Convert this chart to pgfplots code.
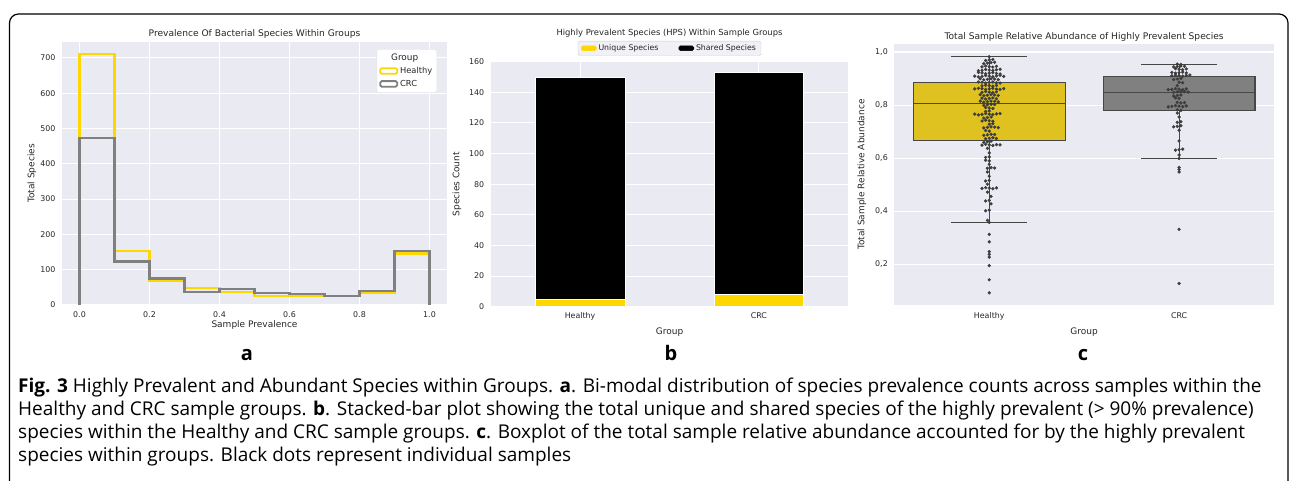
\documentclass[border=0pt]{standalone}
\usepackage{fontspec}
\setmainfont{DejaVu Sans}
\newfontfamily\capfont{Open Sans}
\usepackage{pgfplots}
\pgfplotsset{compat=1.18}
\usepgfplotslibrary{statistics}
\definecolor{bgc}{HTML}{EAEAF2}
\definecolor{gold}{HTML}{FFD700}
\definecolor{hgray}{HTML}{808080}
\definecolor{boxgold}{HTML}{DFC21F}
\definecolor{boxgray}{HTML}{808080}
\definecolor{boxedge}{HTML}{474747}
\definecolor{dotc}{HTML}{3D3D3D}
\definecolor{txt}{HTML}{262626}
\pgfplotsset{
  sb/.style={
    scale only axis, anchor=south west,
    axis background/.style={fill=bgc},
    axis line style={draw=none},
    major tick length=0pt,
    tick style={draw=none},
    major grid style={white, line width=1.1pt},
    enlargelimits=false,
    /pgf/number format/assume math mode=true,
    tick label style={font=\fontsize{7.9}{9}\selectfont, text=txt},
  },
  tstyle/.style={every axis title/.style={at={(axis description cs:0.5,1)}, anchor=center, yshift=#1, font=\fontsize{9.1}{11}\selectfont, text=txt}},
  xl/.style={every axis x label/.style={at={(axis description cs:0.5,0)}, anchor=center, yshift=#1, font=\fontsize{9}{11}\selectfont, text=txt}},
  yl/.style={every axis y label/.style={at={(axis description cs:0,0.5)}, xshift=#1, rotate=90, anchor=center, font=\fontsize{9}{11}\selectfont, text=txt}},
}
\begin{document}
\begin{tikzpicture}
\path[use as bounding box] (0pt,0pt) rectangle (1290pt,480pt);
\begin{scope}
\clip (0pt,0pt) rectangle (1290pt,480pt);
\draw[line width=1.2pt, rounded corners=9pt] (9.5pt,-20pt) -- (9.5pt,466pt) -- (1288pt,466pt) -- (1288pt,-20pt);
\end{scope}

% ---------- panel a ----------
\begin{axis}[sb, at={(62pt,175pt)}, width=385pt, height=263pt,
  xmin=-0.05, xmax=1.05, ymin=0, ymax=745,
  xtick={0,0.2,0.4,0.6,0.8,1.0}, ytick={0,100,200,300,400,500,600,700},
  grid=major,
  xticklabel style={yshift=-3.3pt, /pgf/number format/.cd, fixed, fixed zerofill, precision=1},
  yticklabel style={xshift=-3pt},
  tstyle=7.7pt, xl=-20.3pt, yl=-30pt,
  title={Prevalence Of Bacterial Species Within Groups},
  xlabel={Sample Prevalence}, ylabel={Total Species},
  legend style={at={(0.974,0.973)}, anchor=north east, fill=white, draw=black!12, rounded corners=1.5pt, font=\fontsize{8.3}{10}\selectfont, text=txt, inner sep=2.5pt, row sep=1.2pt},
  legend cell align=left,
]
\addplot[const plot, gold, line width=2.2pt, forget plot] coordinates {(0,0) (0,712) (0.1,152) (0.2,69) (0.3,48) (0.4,37) (0.5,25) (0.6,25) (0.7,26) (0.8,33) (0.9,146) (1.0,0)};
\addplot[const plot, hgray, line width=2.2pt, forget plot] coordinates {(0,0) (0,472) (0.1,123) (0.2,75) (0.3,37) (0.4,45) (0.5,34) (0.6,31) (0.7,25) (0.8,40) (0.9,153) (1.0,0)};
\addlegendimage{empty legend}
\addlegendentry{\hspace*{-9pt}{\fontsize{8.9}{10}\selectfont Group}}
\addlegendimage{legend image code/.code={\draw[gold,line width=1.8pt] (0pt,-2.8pt) rectangle (17pt,2.8pt);}}
\addlegendentry{Healthy}
\addlegendimage{legend image code/.code={\draw[hgray,line width=1.8pt] (0pt,-2.8pt) rectangle (17pt,2.8pt);}}
\addlegendentry{CRC}
\end{axis}

% ---------- panel b ----------
\begin{axis}[sb, at={(490.7pt,173.3pt)}, width=357.6pt, height=245pt,
  xmin=-0.5, xmax=1.5, ymin=0, ymax=160,
  xtick={0,1}, xticklabels={Healthy,CRC}, ytick={0,20,40,60,80,100,120,140,160},
  grid=major,
  ybar stacked, bar width=0.5,
  xticklabel style={yshift=-2.3pt}, yticklabel style={xshift=-3pt},
  tstyle=29pt, xl=-25pt, yl=-33.7pt,
  every axis title/.append style={font=\fontsize{8.4}{10}\selectfont},
  title={Highly Prevalent Species (HPS) Within Sample Groups},
  xlabel={Group}, ylabel={Species Count},
  legend style={at={(0.5,1.0245)}, anchor=south, legend columns=2, fill=bgc!70!white, draw=black!20, rounded corners=1.5pt, font=\fontsize{7.8}{9}\selectfont, text=txt, inner xsep=3pt, inner ysep=1.5pt, /tikz/every even column/.append style={column sep=18pt}},
]
\addplot[fill=gold, draw=white, line width=0.5pt, legend image code/.code={\fill[gold] (0pt,-2.3pt) rectangle (15pt,2.3pt);}] coordinates {(0,5) (1,8)};
\addplot[fill=black, draw=white, line width=0.5pt, legend image code/.code={\fill[black] (0pt,-2.3pt) rectangle (15pt,2.3pt);}] coordinates {(0,145) (1,145)};
\legend{Unique Species, Shared Species}
\end{axis}

% ---------- panel c ----------
\begin{axis}[sb, at={(894.3pt,175pt)}, width=379.7pt, height=261pt,
  xmin=-0.5, xmax=1.5, ymin=0.047, ymax=1.03,
  xtick={0,1}, xticklabels={Healthy,CRC},
  ytick={0.2,0.4,0.6,0.8,1.0}, ymajorgrids,
  xticklabel style={yshift=-3.7pt},
  yticklabel style={xshift=-3pt, /pgf/number format/.cd, fixed, fixed zerofill, precision=1, use comma},
  tstyle=7.3pt, xl=-27pt, yl=-32.3pt,
  title={Total Sample Relative Abundance of Highly Prevalent Species},
  xlabel={Group}, ylabel={Total Sample Relative Abundance},
  boxplot/draw direction=y,
]
\addplot[boxplot prepared={draw position=0, lower whisker=0.357, lower quartile=0.665, median=0.807, upper quartile=0.884, upper whisker=0.982, box extend=0.8, whisker extend=0.4}, draw=boxedge, fill=boxgold, line width=1.1pt] coordinates {};
\addplot[boxplot prepared={draw position=1, lower whisker=0.598, lower quartile=0.780, median=0.848, upper quartile=0.907, upper whisker=0.954, box extend=0.8, whisker extend=0.4}, draw=boxedge, fill=boxgray, line width=1.1pt] coordinates {};
% Healthy swarm
\addplot[only marks, mark=*, mark size=1.45pt, color=dotc] coordinates {
(0,0.982)
(0,0.970) (-0.019,0.968) (0.019,0.972)
(-0.0095,0.958) (0.0095,0.960) (-0.0285,0.956) (0.0285,0.961)
(0,0.945) (-0.019,0.947) (0.019,0.943) (-0.038,0.944) (0.038,0.946)
(0,0.932) (-0.019,0.934) (0.019,0.930) (-0.038,0.931) (0.038,0.933) (-0.057,0.929) (0.057,0.935)
(0,0.920) (-0.019,0.918) (0.019,0.922) (-0.038,0.921) (0.038,0.919) (-0.057,0.923) (0.057,0.917)
(0,0.909) (-0.019,0.911) (0.019,0.907) (-0.038,0.908) (0.038,0.910) (-0.057,0.906) (0.057,0.912) (-0.076,0.909) (0.076,0.908)
(-0.0095,0.897) (0.0095,0.899) (-0.0285,0.895) (0.0285,0.898) (-0.0475,0.899) (0.0475,0.896)
(0,0.885) (-0.019,0.883) (0.019,0.887) (-0.038,0.886) (0.038,0.884) (-0.057,0.887) (0.057,0.883)
(0,0.873) (-0.019,0.875) (0.019,0.871) (-0.038,0.872) (0.038,0.874)
(0,0.861) (-0.019,0.859) (0.019,0.863) (-0.038,0.862) (0.038,0.860) (-0.057,0.863) (0.057,0.859) (-0.076,0.861) (0.076,0.862)
(0,0.849) (-0.019,0.851) (0.019,0.847) (-0.038,0.848) (0.038,0.850)
(-0.0095,0.837) (0.0095,0.839) (-0.0285,0.835) (0.0285,0.838) (-0.0475,0.839) (0.0475,0.836)
(0,0.825) (-0.019,0.823) (0.019,0.827) (-0.038,0.826) (0.038,0.824)
(-0.0095,0.813) (0.0095,0.815) (-0.0285,0.811) (0.0285,0.814) (-0.0475,0.815) (0.0475,0.812)
(-0.0095,0.801) (0.0095,0.803) (-0.0285,0.799) (0.0285,0.802)
(0,0.789) (-0.019,0.791) (0.019,0.787)
(0,0.778) (-0.019,0.776)
(0,0.766) (-0.019,0.768) (0.019,0.764) (-0.038,0.765) (0.038,0.767) (-0.057,0.763) (0.057,0.768) (-0.076,0.766)
(-0.0095,0.753) (0.0095,0.755) (-0.0285,0.751)
(0,0.741) (-0.019,0.743) (0.019,0.739) (-0.038,0.740)
(0,0.728) (0.019,0.730)
(-0.0095,0.716) (0.0095,0.718) (-0.0285,0.714) (0.0285,0.717) (0.0475,0.715)
(0,0.702) (-0.019,0.704)
(-0.0095,0.688) (0.0095,0.690) (-0.0285,0.686) (0.0285,0.689)
(0,0.675) (-0.019,0.673) (0.019,0.677) (0.038,0.674)
(-0.0095,0.662) (0.0095,0.664) (-0.0285,0.660)
(0,0.650) (-0.019,0.652) (0.019,0.648) (-0.038,0.649) (0.038,0.651) (0.057,0.650)
(-0.0095,0.637)
(0,0.620)
(0,0.605) (-0.019,0.603)
(0,0.590) (-0.019,0.592)
(0,0.577)
(-0.0095,0.562) (0.0095,0.564) (0.0285,0.563)
(-0.0095,0.548)
(0,0.532)
(0,0.516) (-0.019,0.514)
(-0.0095,0.502)
(0,0.487) (-0.019,0.489) (0.019,0.485) (-0.038,0.486) (0.038,0.488)
(-0.0095,0.472)
(0.0095,0.456)
(0,0.441) (-0.019,0.439)
(0.0095,0.428)
(0,0.404) (-0.019,0.402)
(-0.0095,0.366)
(0,0.358)
(0,0.313) (0,0.285) (0,0.248) (0,0.238) (0,0.227) (0,0.195) (0,0.142) (0,0.093)
};
% CRC swarm
\addplot[only marks, mark=*, mark size=1.45pt, color=dotc] coordinates {
(0.9905,0.954) (1.0095,0.953)
(0.9905,0.945) (1.0095,0.947) (0.9715,0.944) (1.0285,0.946)
(1,0.935) (0.981,0.937) (1.019,0.933) (1.038,0.936)
(1,0.922) (0.981,0.920) (1.019,0.924) (0.962,0.923) (1.038,0.921)
(1,0.911) (0.981,0.913) (1.019,0.909) (0.962,0.910) (1.038,0.912) (1.057,0.913)
(0.9905,0.898) (1.0095,0.900) (0.9715,0.896)
(1,0.886) (1.019,0.884)
(0.9905,0.873)
(1,0.860) (0.981,0.862) (1.019,0.858) (0.962,0.859) (1.038,0.861) (0.943,0.858)
(0.9905,0.850) (1.0095,0.852) (0.9715,0.848) (1.0285,0.851) (1.0475,0.849)
(0.9905,0.836) (1.0095,0.838) (0.9715,0.834)
(1,0.825) (0.981,0.827)
(0.9905,0.810) (1.0095,0.808) (1.0285,0.809)
(1,0.796) (0.981,0.798) (1.019,0.794) (0.962,0.795) (1.038,0.797) (0.943,0.793)
(0.9905,0.782) (1.0095,0.780)
(0.9905,0.770)
(1,0.755)
(0.9905,0.735) (1.0095,0.737)
(0.9905,0.720) (1.0095,0.722) (0.9715,0.718)
(1,0.705)
(1,0.665)
(1,0.632) (0.981,0.630) (1.019,0.634)
(1,0.612)
(1,0.599)
(1,0.565) (1,0.557) (1,0.548)
(1,0.332) (1,0.128)
};
\end{axis}

% ---------- panel letters ----------
\node[font=\capfont\bfseries\fontsize{20}{24}\selectfont, anchor=base] at (247pt,119.5pt) {a};
\node[font=\capfont\bfseries\fontsize{20}{24}\selectfont, anchor=base] at (671pt,119.5pt) {b};
\node[font=\capfont\bfseries\fontsize{20}{24}\selectfont, anchor=base] at (1083pt,119.5pt) {c};

% ---------- caption ----------
\begin{scope}[every node/.style={anchor=base west, inner sep=0pt, font=\capfont\fontsize{19}{23}\selectfont}]
\node at (18pt,88pt) {\textbf{Fig. 3} Highly Prevalent and Abundant Species within Groups. \textbf{a}. Bi-modal distribution of species prevalence counts across samples within the};
\node at (18pt,65pt) {Healthy and CRC sample groups. \textbf{b}. Stacked-bar plot showing the total unique and shared species of the highly prevalent (> 90\% prevalence)};
\node at (18pt,42pt) {species within the Healthy and CRC sample groups. \textbf{c}. Boxplot of the total sample relative abundance accounted for by the highly prevalent};
\node at (18pt,19pt) {species within groups. Black dots represent individual samples};
\end{scope}
\end{tikzpicture}
\end{document}
